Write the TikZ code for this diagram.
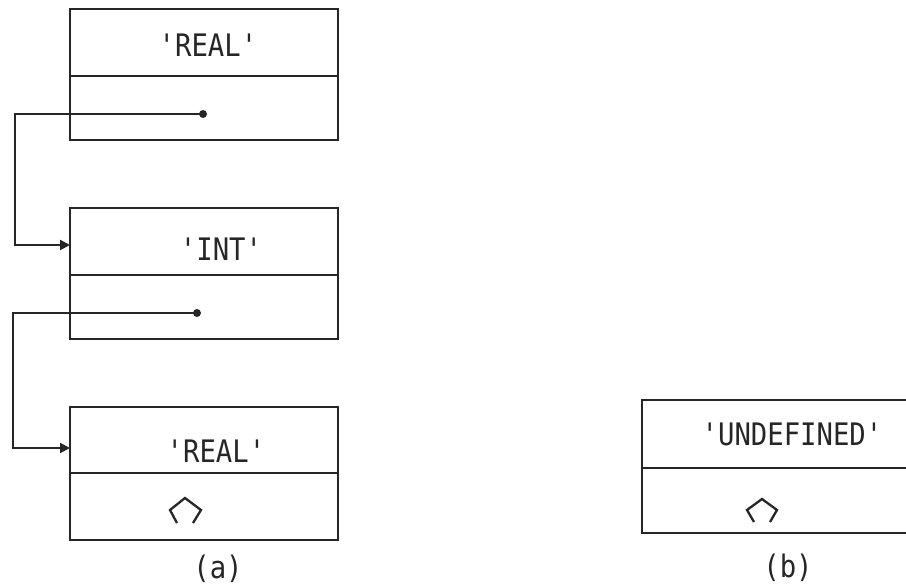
\documentclass[tikz,border=0pt]{standalone}
\usepackage{fontspec}
\usetikzlibrary{arrows.meta}
\newfontfamily\printfont[FakeStretch=0.88]{DejaVu Sans Mono}
\begin{document}
\begin{tikzpicture}[x=1pt,y=-1pt,
  ink/.style={line width=2.3pt,draw=black!85},
  cell/.style={ink,rectangle,inner sep=0pt,minimum width=268pt},
  field/.style={font=\printfont\fontsize{31}{31}\selectfont,text=black!85,inner sep=0pt,anchor=base},
  wire/.style={line width=2.1pt,draw=black!85,-{Triangle[length=10pt,width=10pt]}},
  pin/.style={circle,fill=black!85,inner sep=0pt,minimum size=8pt},
  nilmark/.style={line width=2.3pt,draw=black!85,line join=miter}]
\useasboundingbox (0,0) rectangle (906,586);
\fill[white] (0,0) rectangle (906,586);
\clip (0,0) rectangle (906,586);

% (a) chain of three records
\node[cell,minimum height=131pt] (r1) at (204,74.5) {};
\draw[ink] (r1.west |- 0,76) -- (r1.east |- 0,76);
\node[field] (t1) at (208,57) {'REAL'};
\node[pin] (d1) at (203,114) {};

\node[cell,minimum height=131pt] (r2) at (204,273.5) {};
\draw[ink] (r2.west |- 0,275) -- (r2.east |- 0,275);
\node[field] (t2) at (221,260) {'INT'};
\node[pin] (d2) at (197,313) {};

\node[cell,minimum height=133pt] (r3) at (204,473.5) {};
\draw[ink] (r3.west |- 0,473) -- (r3.east |- 0,473);
\node[field] (t3) at (216,462) {'REAL'};
\coordinate (n3) at (185,510);
\draw[nilmark] ([shift={(-8,13)}]n3) -- ([shift={(-15,0)}]n3) -- ([shift={(0,-12)}]n3)
  -- ([shift={(16,0)}]n3) -- ([shift={(8,13)}]n3);

% links between records
\coordinate (k1) at (15,114);
\coordinate (in2) at (70,245);
\draw[wire] (d1.center) -- (k1) |- (in2);
\coordinate (k2) at (13,313);
\coordinate (in3) at (70,448);
\draw[wire] (d2.center) -- (k2) |- (in3);

\node[field] (la) at (218,578) {(a)};

% (b) single record
\node[cell,minimum width=272pt,minimum height=133pt] (rb) at (778,466.5) {};
\draw[ink] (rb.west |- 0,468) -- (rb.east |- 0,468);
\node[field] (tb) at (792,445) {'UNDEFINED'};
\coordinate (nb) at (762,510);
\draw[nilmark] ([shift={(-8,12)}]nb) -- ([shift={(-15,0)}]nb) -- ([shift={(0,-11)}]nb)
  -- ([shift={(15,0)}]nb) -- ([shift={(8,12)}]nb);

\node[field] (lb) at (788,577) {(b)};
\end{tikzpicture}
\end{document}
